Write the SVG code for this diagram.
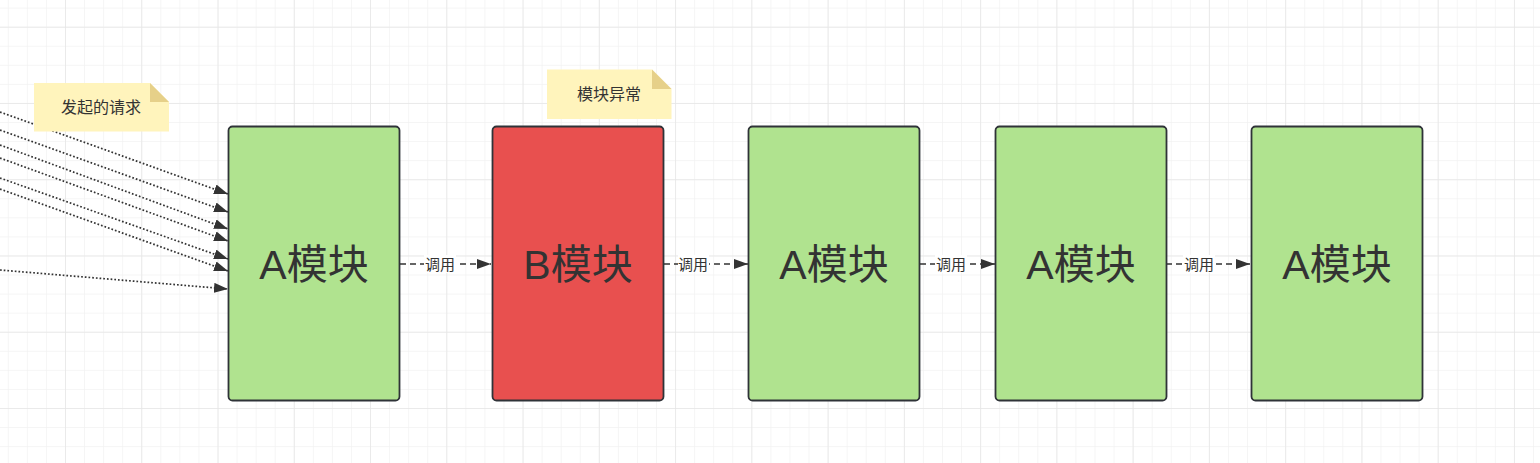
<svg xmlns="http://www.w3.org/2000/svg" width="1540" height="463" viewBox="0 0 1540 463">
<style>
.mod{stroke:#2f3338;stroke-width:1.8}
.green{fill:#b0e38f}
.red{fill:#e8504f}
.big{font-family:"Liberation Sans","Noto Sans CJK SC",sans-serif;font-size:41px;fill:#333;text-anchor:middle;dominant-baseline:central}
.note{fill:#fff4bc}
.fold{fill:#e6d089}
.ntxt{font-family:"Liberation Sans","Noto Sans CJK SC",sans-serif;font-size:16px;fill:#333;text-anchor:middle;dominant-baseline:central}
.lbl{font-family:"Liberation Sans","Noto Sans CJK SC",sans-serif;font-size:15px;fill:#333;text-anchor:middle;dominant-baseline:central}
.dot{fill:none;stroke:#333;stroke-width:1.7;stroke-dasharray:1.7 2}
.dash{fill:none;stroke:#333;stroke-width:1.7;stroke-dasharray:6 4}
</style>
<defs>
<pattern id="minor" x="65" y="26.7" width="19.065" height="19.065" patternUnits="userSpaceOnUse">
<path d="M0 0H19.065M0 0V19.065" fill="none" stroke="#f2f2f2" stroke-width="1.5"/>
</pattern>
<pattern id="major" x="65" y="26.7" width="76.26" height="76.26" patternUnits="userSpaceOnUse">
<path d="M0 0H76.26M0 0V76.26" fill="none" stroke="#e6e6e6" stroke-width="1.5"/>
</pattern>
<marker id="arr" viewBox="0 0 14 10" refX="14" refY="5" markerWidth="14" markerHeight="10" markerUnits="userSpaceOnUse" orient="auto">
<path d="M0 0L14 5L0 10Z" fill="#333"/>
</marker>
</defs>
<rect width="1540" height="463" fill="#fff"/>
<rect width="1540" height="463" fill="url(#minor)"/>
<rect width="1540" height="463" fill="url(#major)"/>
<g id="connectors">
<path class="dot" d="M0 112L228 194" marker-end="url(#arr)"/>
<path class="dot" d="M0 130L228 212" marker-end="url(#arr)"/>
<path class="dot" d="M0 145L228 229" marker-end="url(#arr)"/>
<path class="dot" d="M0 158L228 241" marker-end="url(#arr)"/>
<path class="dot" d="M0 178L228 259" marker-end="url(#arr)"/>
<path class="dot" d="M0 189L228 271" marker-end="url(#arr)"/>
<path class="dot" d="M0 270L228 289" marker-end="url(#arr)"/>
<path class="dash" d="M400 264H491" marker-end="url(#arr)"/>
<path class="dash" d="M664 264H748" marker-end="url(#arr)"/>
<path class="dash" d="M920 264H995" marker-end="url(#arr)"/>
<path class="dash" d="M1166 264H1250" marker-end="url(#arr)"/>
<rect x="424" y="255" width="32" height="18" fill="#fff"/>
<text class="lbl" x="440" y="264">调用</text>
<rect x="678" y="255" width="31" height="18" fill="#fff"/>
<text class="lbl" x="693" y="264">调用</text>
<rect x="935" y="255" width="32" height="18" fill="#fff"/>
<text class="lbl" x="951" y="264">调用</text>
<rect x="1183" y="255" width="32" height="18" fill="#fff"/>
<text class="lbl" x="1199" y="264">调用</text>
</g>
<g id="note1">
<path class="note" d="M34 83H150L169 102V131.5H34Z"/>
<path class="fold" d="M150 83L169 102H150Z"/>
<text class="ntxt" x="101" y="107">发起的请求</text>
</g>
<g id="note2">
<path class="note" d="M547 69.5H652L671.5 89V119H547Z"/>
<path class="fold" d="M652 69.5L671.5 89H652Z"/>
<text class="ntxt" x="609" y="94">模块异常</text>
</g>
<g id="a1">
<rect class="mod green" x="228.5" y="126.5" width="171" height="274" rx="4"/>
<text class="big" x="314" y="265">A模块</text>
</g>
<g id="b">
<rect class="mod red" x="492.5" y="126.5" width="171" height="274" rx="4"/>
<text class="big" x="578" y="265">B模块</text>
</g>
<g id="a2">
<rect class="mod green" x="748.5" y="126.5" width="171" height="274" rx="4"/>
<text class="big" x="834" y="265">A模块</text>
</g>
<g id="a3">
<rect class="mod green" x="995.5" y="126.5" width="171" height="274" rx="4"/>
<text class="big" x="1081" y="265">A模块</text>
</g>
<g id="a4">
<rect class="mod green" x="1251.5" y="126.5" width="171" height="274" rx="4"/>
<text class="big" x="1337" y="265">A模块</text>
</g>
</svg>
